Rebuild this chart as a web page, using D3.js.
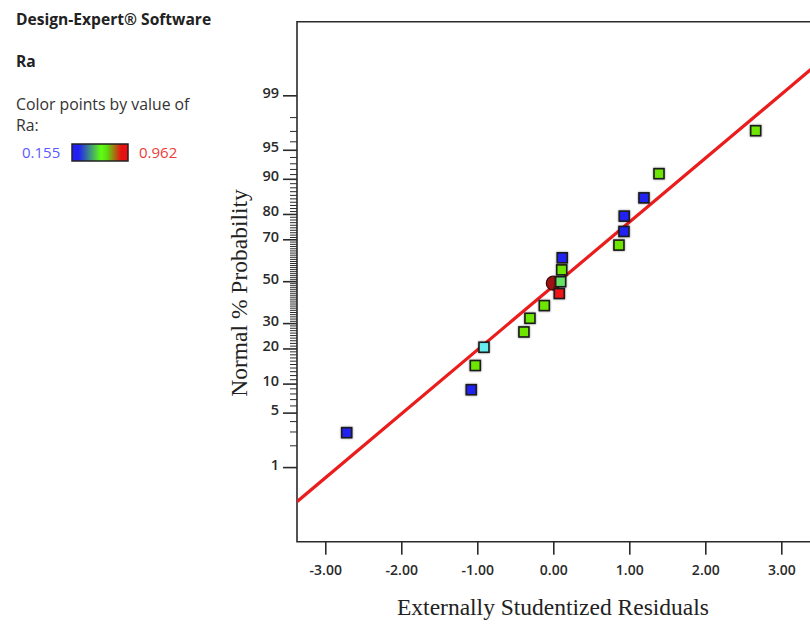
<!DOCTYPE html>
<html><head><meta charset="utf-8">
<script src="https://cdn.jsdelivr.net/npm/d3@7"></script>
<style>
html,body{margin:0;padding:0;background:#fff;}
svg{display:block;}
</style></head>
<body>
<script>
// ---- data ----
const residuals = [-2.718, -1.079, -1.026, -0.912, -0.386, -0.307, -0.118, 0.079, 0.097, 0.111, 0.118, 0.864, 0.930, 0.934, 1.193, 1.391, 2.663];
const probabilities = [2.94, 8.82, 14.71, 20.59, 26.47, 32.35, 38.24, 44.12, 50.00, 55.88, 61.76, 67.65, 73.53, 79.41, 85.29, 91.18, 97.06];
const raValues = [0.17, 0.18, 0.56, 0.30, 0.57, 0.55, 0.58, 0.96, 0.45, 0.56, 0.19, 0.57, 0.20, 0.18, 0.17, 0.55, 0.58];
const raMin = 0.155, raMax = 0.962;
const xTicks = [-3, -2, -1, 0, 1, 2, 3];
const yLabelTicks = [1, 5, 10, 20, 30, 50, 70, 80, 90, 95, 99];
const yMinorTicks = d3.range(1, 100).filter(v => !yLabelTicks.includes(v));
const fitLine = [{r: -3.372, p: 0.295}, {r: 3.40, p: 99.615}];
const designPoint = {r: 0, p: 50};

// ---- helpers ----
function probit(p) { // inverse standard normal CDF (Acklam)
  const a=[-3.969683028665376e+01,2.209460984245205e+02,-2.759285104469687e+02,1.383577518672690e+02,-3.066479806614716e+01,2.506628277459239e+00];
  const b=[-5.447609879822406e+01,1.615858368580409e+02,-1.556989798598866e+02,6.680131188771972e+01,-1.328068155288572e+01];
  const c=[-7.784894002430293e-03,-3.223964580411365e-01,-2.400758277161838e+00,-2.549671669539792e+00,4.374664141464968e+00,2.938163982698783e+00];
  const d=[7.784695709041462e-03,3.224671290700398e-01,2.445134137142996e+00,3.754408661907416e+00];
  const pl=0.02425, ph=1-pl; let q,r;
  if(p<pl){q=Math.sqrt(-2*Math.log(p));return (((((c[0]*q+c[1])*q+c[2])*q+c[3])*q+c[4])*q+c[5])/((((d[0]*q+d[1])*q+d[2])*q+d[3])*q+1);}
  if(p<=ph){q=p-0.5;r=q*q;return (((((a[0]*r+a[1])*r+a[2])*r+a[3])*r+a[4])*r+a[5])*q/(((((b[0]*r+b[1])*r+b[2])*r+b[3])*r+b[4])*r+1);}
  q=Math.sqrt(-2*Math.log(1-p));return -(((((c[0]*q+c[1])*q+c[2])*q+c[3])*q+c[4])*q+c[5])/((((d[0]*q+d[1])*q+d[2])*q+d[3])*q+1);
}

const W = 810, H = 626;
const pL = 297, pR = 811.7, pT = 21.7, pB = 541.7;

const x = d3.scaleLinear().domain([-3.372, 3.40]).range([pL, pR]);
const zScale = d3.scaleLinear().domain([-3.254, 3.254]).range([pB, pT]);
const y = p => zScale(probit(p / 100));

const color = d3.scaleThreshold().domain([0.25, 0.38, 0.5, 0.8])
  .range(['#2222f0', '#66eeee', '#66e266', '#6ee600', '#ee1414']);

const svg = d3.select('body').append('svg').attr('width', W).attr('height', H);
const defs = svg.append('defs');
defs.append('clipPath').attr('id', 'clip').append('rect')
  .attr('x', pL).attr('y', pT).attr('width', pR - pL).attr('height', pB - pT);
const f = defs.append('filter').attr('id', 'shadow').attr('x', '-50%').attr('y', '-50%').attr('width', '200%').attr('height', '200%');
f.append('feDropShadow').attr('dx', 0).attr('dy', 0).attr('stdDeviation', 1).attr('flood-color', '#000').attr('flood-opacity', 0.45);

const grad = defs.append('linearGradient').attr('id', 'legendGrad');
[[0, '#2020f2'], [0.12, '#2020f2'], [0.52, '#60ff10'], [0.62, '#5ae010'], [0.88, '#e81010'], [1, '#e81010']]
  .forEach(([o, c]) => grad.append('stop').attr('offset', o).attr('stop-color', c));

// ---- legend text ----
const sans = "'Open Sans', 'Noto Sans', sans-serif";
svg.append('text').attr('x', 16).attr('y', 25).text('Design-Expert® Software')
  .attr('font-family', sans).attr('font-weight', 700).attr('font-size', 15.6).attr('fill', '#222');
svg.append('text').attr('x', 16).attr('y', 67).text('Ra')
  .attr('font-family', sans).attr('font-weight', 700).attr('font-size', 15.6).attr('fill', '#222');
svg.append('text').attr('x', 16).attr('y', 110).text('Color points by value of')
  .attr('font-family', sans).attr('font-size', 15.8).attr('fill', '#333');
svg.append('text').attr('x', 16).attr('y', 131).text('Ra:')
  .attr('font-family', sans).attr('font-size', 15.8).attr('fill', '#333');
svg.append('text').attr('x', 22).attr('y', 158).text(d3.format('.3f')(raMin))
  .attr('font-family', sans).attr('font-size', 15).attr('fill', '#5a5aff');
svg.append('rect').attr('x', 72).attr('y', 144).attr('width', 56).attr('height', 17)
  .attr('fill', 'url(#legendGrad)').attr('stroke', '#222').attr('stroke-width', 1.5);
svg.append('text').attr('x', 139).attr('y', 158).text(d3.format('.3f')(raMax))
  .attr('font-family', sans).attr('font-size', 15).attr('fill', '#ee3a3a');

// ---- axes ----
const axisColor = '#2a2a2a';
svg.append('path')
  .attr('d', `M${pR + 5},${pT}H${pL}V${pB}H${pR + 5}`)
  .attr('fill', 'none').attr('stroke', axisColor).attr('stroke-width', 1.6);

const xAxis = d3.axisBottom(x).tickValues(xTicks).tickSize(13).tickPadding(10).tickFormat(d => d.toFixed(2));
const gx = svg.append('g').attr('transform', `translate(0,${pB})`).call(xAxis);
gx.select('.domain').remove();
gx.selectAll('line').attr('stroke', axisColor).attr('stroke-width', 1.6);
gx.selectAll('text').attr('font-family', sans).attr('font-size', 14).attr('font-weight', 600).attr('fill', '#2a2a2a');

// y ticks (probability scale)
const gy = svg.append('g');
gy.selectAll('line.minor').data(yMinorTicks).join('line').attr('class', 'minor')
  .attr('x1', pL - 7).attr('x2', pL).attr('y1', d => y(d)).attr('y2', d => y(d))
  .attr('stroke', axisColor).attr('stroke-width', 1);
gy.selectAll('line.major').data(yLabelTicks).join('line').attr('class', 'major')
  .attr('x1', pL - 14).attr('x2', pL).attr('y1', d => y(d)).attr('y2', d => y(d))
  .attr('stroke', axisColor).attr('stroke-width', 1.6);
gy.selectAll('text').data(yLabelTicks).join('text')
  .attr('x', pL - 18).attr('y', d => y(d) + 2).attr('text-anchor', 'end')
  .text(d => d).attr('font-family', sans).attr('font-size', 14.5).attr('font-weight', 600).attr('fill', '#2a2a2a');

// axis titles
svg.append('text').attr('x', 553).attr('y', 615).attr('text-anchor', 'middle')
  .text('Externally Studentized Residuals')
  .attr('font-family', "'Liberation Serif', 'Times New Roman', serif").attr('font-size', 23.5).attr('fill', '#222');
svg.append('text').attr('transform', 'translate(247,293) rotate(-90)').attr('text-anchor', 'middle')
  .text('Normal % Probability')
  .attr('font-family', "'Liberation Serif', 'Times New Roman', serif").attr('font-size', 23.5).attr('fill', '#222');

// ---- plot content ----
const plot = svg.append('g').attr('clip-path', 'url(#clip)');
plot.append('path').datum(fitLine)
  .attr('d', d3.line().x(d => x(d.r)).y(d => y(d.p)))
  .attr('stroke', '#ea1c1c').attr('stroke-width', 3.2).attr('fill', 'none');

plot.append('circle').attr('cx', x(designPoint.r)).attr('cy', y(designPoint.p) + 1.5).attr('r', 7)
  .attr('fill', '#a01212').attr('stroke', '#3a0a0a').attr('stroke-width', 1.2);

const pts = residuals.map((r, i) => ({r, p: probabilities[i], ra: raValues[i]}));
const s = 10;
plot.selectAll('rect.pt').data(pts).join('rect').attr('class', 'pt')
  .attr('x', d => x(d.r) - s / 2).attr('y', d => y(d.p) - s / 2)
  .attr('width', s).attr('height', s)
  .attr('fill', d => color(d.ra)).attr('stroke', '#1a1a1a').attr('stroke-width', 1.6)
  .attr('filter', 'url(#shadow)');
</script>
</body></html>
